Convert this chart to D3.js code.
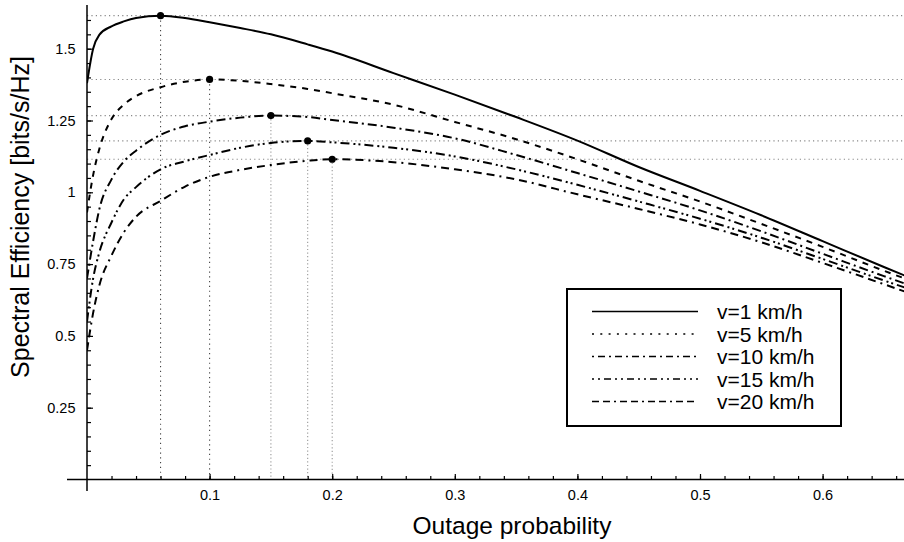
<!DOCTYPE html>
<html>
<head>
<meta charset="utf-8">
<script src="https://cdn.jsdelivr.net/npm/d3@7"></script>
<style>
  body { margin: 0; background: #fff; }
  text { font-family: "Liberation Sans", Arial, sans-serif; fill: #000; }
  .tick text { font-size: 14.5px; }
  .tick line { stroke: #000; stroke-width: 1.2; }
</style>
</head>
<body>
<svg width="904" height="542"></svg>
<script>
// outage probability grid shared by all curves
const outage = [0, 0.005, 0.01, 0.02, 0.03, 0.04, 0.06, 0.08, 0.1, 0.125, 0.15, 0.18, 0.2,
  0.25, 0.3, 0.35, 0.4, 0.45, 0.5, 0.55, 0.6, 0.65, 0.67];

const seriesNames = ["v=1 km/h", "v=5 km/h", "v=10 km/h", "v=15 km/h", "v=20 km/h"];

const se1 = [1.38, 1.5, 1.548, 1.578, 1.595, 1.607, 1.615, 1.607, 1.592, 1.572, 1.55, 1.515, 1.49,
  1.415, 1.34, 1.262, 1.18, 1.088, 1.005, 0.92, 0.83, 0.74, 0.705];
const se5 = [0.93, 1.06, 1.15, 1.255, 1.305, 1.335, 1.366, 1.385, 1.393, 1.388, 1.377, 1.36, 1.345,
  1.305, 1.245, 1.185, 1.115, 1.04, 0.968, 0.89, 0.81, 0.727, 0.695];
const se10 = [0.70, 0.83, 0.94, 1.045, 1.107, 1.145, 1.2, 1.23, 1.246, 1.26, 1.267, 1.262, 1.252,
  1.225, 1.188, 1.13, 1.067, 1.003, 0.937, 0.864, 0.786, 0.708, 0.678];
const se15 = [0.55, 0.70, 0.79, 0.895, 0.975, 1.018, 1.08, 1.108, 1.13, 1.155, 1.172, 1.179, 1.174,
  1.155, 1.125, 1.08, 1.026, 0.968, 0.908, 0.842, 0.768, 0.693, 0.664];
const se20 = [0.45, 0.58, 0.675, 0.78, 0.86, 0.915, 0.97, 1.02, 1.054, 1.078, 1.095, 1.11, 1.115,
  1.105, 1.08, 1.045, 0.993, 0.942, 0.888, 0.826, 0.754, 0.68, 0.65];

// optimum points marked on each curve
const peakX = [0.06, 0.1, 0.15, 0.18, 0.2];
const peakY = [1.615, 1.393, 1.267, 1.179, 1.115];

const xTickValues = [0.1, 0.2, 0.3, 0.4, 0.5, 0.6];
const yTickValues = [0.25, 0.5, 0.75, 1, 1.25, 1.5];

const xAxisLabel = "Outage probability";
const yAxisLabel = "Spectral Efficiency [bits/s/Hz]";

const svg = d3.select("svg");
const width = +svg.attr("width");

const xScale = d3.scaleLinear().domain([0, 0.1]).range([87, 209.6]);
const yScale = d3.scaleLinear().domain([0, 1.5]).range([479.5, 48.7]);

const curves = [se1, se5, se10, se15, se20];
const dashes = [null, "6,6", "9,4,2,4", "9,4,2,3,2,4", "8,5,8,5,2,5"];
const legendDashes = [null, "2,6.3", "2,4,7,4", "2,4,2,4,7,4", "7,4,7,4,2,4"];

svg.append("clipPath").attr("id", "plot-clip")
  .append("rect")
  .attr("x", xScale(0)).attr("y", 0)
  .attr("width", width - xScale(0)).attr("height", yScale(0));

const plot = svg.append("g").attr("clip-path", "url(#plot-clip)");

// dotted guide lines through the optima
plot.selectAll(".hguide")
  .data(peakY)
  .enter()
  .append("line")
  .attr("class", "hguide")
  .attr("x1", xScale(0)).attr("x2", width)
  .attr("y1", (d) => yScale(d)).attr("y2", (d) => yScale(d))
  .attr("stroke", "#888").attr("stroke-width", 1.1)
  .attr("stroke-dasharray", "1.2,3.2");

plot.selectAll(".vguide")
  .data(peakX)
  .enter()
  .append("line")
  .attr("class", "vguide")
  .attr("x1", (d) => xScale(d)).attr("x2", (d) => xScale(d))
  .attr("y1", (d, i) => yScale(peakY[i])).attr("y2", yScale(0))
  .attr("stroke", (d, i) => (i < 2 ? "#444" : "#999")).attr("stroke-width", 1.1)
  .attr("stroke-dasharray", (d, i) => (i < 2 ? "1.2,3.6" : "1.2,2.4"));

const lineGenerator = d3.line()
  .x((d, i) => xScale(outage[i]))
  .y((d) => yScale(d))
  .curve(d3.curveMonotoneX);

plot.selectAll(".curve")
  .data(curves)
  .enter()
  .append("path")
  .attr("class", "curve")
  .attr("d", (d) => lineGenerator(d))
  .attr("fill", "none")
  .attr("stroke", "#000")
  .attr("stroke-width", 2)
  .attr("stroke-dasharray", (d, i) => dashes[i]);

plot.selectAll(".peak")
  .data(peakX)
  .enter()
  .append("circle")
  .attr("class", "peak")
  .attr("cx", (d) => xScale(d))
  .attr("cy", (d, i) => yScale(peakY[i]))
  .attr("r", 3.6)
  .attr("fill", "#000");

// axes: minor ticks, major ticks with labels, and the crossing axis lines
svg.append("g")
  .attr("transform", `translate(0,${yScale(0)})`)
  .call(d3.axisBottom(xScale).tickValues(d3.range(1, 34).map((k) => k * 0.02)).tickSize(-3.5).tickFormat(""))
  .call((g) => g.select(".domain").remove());

svg.append("g")
  .attr("transform", `translate(0,${yScale(0)})`)
  .call(d3.axisBottom(xScale).tickValues(xTickValues).tickSize(-5.5).tickPadding(10).tickFormat((d) => d))
  .call((g) => g.select(".domain").remove());

svg.append("g")
  .attr("transform", `translate(${xScale(0)},0)`)
  .call(d3.axisLeft(yScale).tickValues(d3.range(1, 33).map((k) => k * 0.05)).tickSize(-4).tickFormat(""))
  .call((g) => g.select(".domain").remove());

svg.append("g")
  .attr("transform", `translate(${xScale(0)},0)`)
  .call(d3.axisLeft(yScale).tickValues(yTickValues).tickSize(-6).tickPadding(11.5).tickFormat((d) => d))
  .call((g) => g.select(".domain").remove());

svg.append("line")
  .attr("x1", 67).attr("x2", width)
  .attr("y1", yScale(0)).attr("y2", yScale(0))
  .attr("stroke", "#000").attr("stroke-width", 1.5);

svg.append("line")
  .attr("x1", xScale(0)).attr("x2", xScale(0))
  .attr("y1", 5).attr("y2", 491)
  .attr("stroke", "#000").attr("stroke-width", 1.5);

svg.append("text")
  .attr("x", 512).attr("y", 534)
  .attr("text-anchor", "middle")
  .style("font-size", "24.5px")
  .text(xAxisLabel);

svg.append("text")
  .attr("transform", "translate(29,217) rotate(-90)")
  .attr("text-anchor", "middle")
  .style("font-size", "25px")
  .text(yAxisLabel);

// legend
const legend = svg.append("g");
legend.append("rect")
  .attr("x", 567).attr("y", 289)
  .attr("width", 274).attr("height", 137)
  .attr("fill", "#fff").attr("stroke", "#000").attr("stroke-width", 2);

const rows = legend.selectAll(".row")
  .data(seriesNames)
  .enter()
  .append("g")
  .attr("class", "row")
  .attr("transform", (d, i) => `translate(0,${311.5 + i * 22.5})`);

rows.append("line")
  .attr("x1", 592).attr("x2", 698)
  .attr("stroke", "#000").attr("stroke-width", 1.6)
  .attr("stroke-dasharray", (d, i) => legendDashes[i]);

rows.append("text")
  .attr("x", 717).attr("dy", "0.36em")
  .style("font-size", "21px")
  .text((d) => d);
</script>
</body>
</html>
